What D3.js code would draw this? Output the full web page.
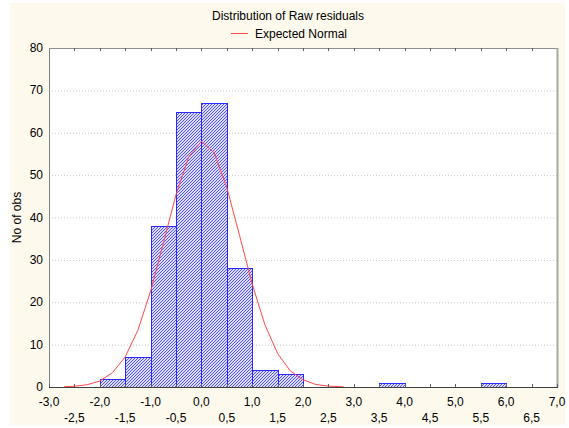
<!DOCTYPE html>
<html>
<head>
<meta charset="utf-8">
<script src="https://cdn.jsdelivr.net/npm/d3@7"></script>
<style>
  body { margin: 0; background: #ffffff; }
  text { font-family: "Liberation Sans", Arial, sans-serif; font-size: 12px; fill: #000; }
</style>
</head>
<body>
<svg id="chart" width="569" height="428"></svg>
<script>
// histogram bins (lower edge, upper edge, count)
const binStart = [-2.0, -1.5, -1.0, -0.5, 0.0, 0.5, 1.0, 1.5, 3.5, 5.5];
const binEnd   = [-1.5, -1.0, -0.5, 0.0, 0.5, 1.0, 1.5, 2.0, 4.0, 6.0];
const counts   = [2, 7, 38, 65, 67, 28, 4, 3, 1, 1];

// expected normal curve
const curveX = [-2.7, -2.5, -2.25, -2.0, -1.75, -1.5, -1.25, -1.0, -0.75, -0.5, -0.25, 0.0,
                0.25, 0.5, 0.75, 1.0, 1.25, 1.5, 1.75, 2.0, 2.25, 2.5, 2.8];
const curveY = [0.07, 0.18, 0.54, 1.4, 3.4, 7.1, 13.4, 22.6, 33.9, 45.4, 54.3, 58.0,
                55.3, 47.1, 35.8, 24.3, 14.7, 7.9, 3.8, 1.7, 0.6, 0.2, 0.05];

const xTicks = [-3.0, -2.5, -2.0, -1.5, -1.0, -0.5, 0.0, 0.5, 1.0, 1.5, 2.0, 2.5,
                3.0, 3.5, 4.0, 4.5, 5.0, 5.5, 6.0, 6.5, 7.0];
const yTicks = [0, 10, 20, 30, 40, 50, 60, 70, 80];

const svg = d3.select("#chart");
const margin = { top: 48, bottom: 41, left: 49, right: 12 };
const width = +svg.attr("width") - margin.left - margin.right;
const height = +svg.attr("height") - margin.top - margin.bottom;

// cream background
svg.append("rect")
  .attr("x", 10).attr("y", 3).attr("width", 555).attr("height", 422)
  .attr("fill", "#fdf9ed");

// hatch pattern for the bars
const defs = svg.append("defs");
const pat = defs.append("pattern")
  .attr("id", "hatch")
  .attr("patternUnits", "userSpaceOnUse")
  .attr("width", 3).attr("height", 3);
pat.append("rect").attr("width", 3).attr("height", 3).attr("fill", "#dcdcfc");
pat.append("path").attr("d", "M-1,1 l2,-2 M0,3 l3,-3 M2,4 l2,-2")
  .attr("stroke", "#5454f2").attr("stroke-width", 1);

const xScale = d3.scaleLinear().domain([-3, 7]).range([0, width]);
const yScale = d3.scaleLinear().domain([0, 80]).range([height, 0]);

const chart = svg.append("g").attr("transform", `translate(${margin.left},${margin.top})`);

chart.append("rect")
  .attr("width", width).attr("height", height)
  .attr("fill", "#ffffff");

// dotted grid lines
chart.append("g")
  .selectAll("line")
  .data(yTicks.filter(d => d > 0 && d < 80))
  .enter()
  .append("line")
  .attr("x1", 0).attr("x2", width)
  .attr("y1", d => yScale(d) + 0.5).attr("y2", d => yScale(d) + 0.5)
  .attr("stroke", "#c8c8c8")
  .attr("stroke-dasharray", "1,2");

// bars
chart.append("g")
  .selectAll("rect")
  .data(counts)
  .enter()
  .append("rect")
  .attr("x", (d, i) => Math.round(xScale(binStart[i])) + 0.5)
  .attr("y", d => Math.round(yScale(d)) + 0.5)
  .attr("width", (d, i) => Math.round(xScale(binEnd[i])) - Math.round(xScale(binStart[i])))
  .attr("height", d => height - Math.round(yScale(d)))
  .attr("fill", "url(#hatch)")
  .attr("stroke", "#2828ff")
  .attr("stroke-width", 1);

// expected normal
const line = d3.line()
  .x((d, i) => xScale(curveX[i]))
  .y(d => yScale(d));
chart.append("path")
  .datum(curveY)
  .attr("d", line)
  .attr("fill", "none")
  .attr("stroke", "#ff4848")
  .attr("stroke-width", 1);

// frame
chart.append("line").attr("x1", 0.5).attr("x2", 0.5).attr("y1", 0).attr("y2", height)
  .attr("stroke", "#808080");
chart.append("line").attr("x1", 0).attr("x2", width).attr("y1", 0.5).attr("y2", 0.5)
  .attr("stroke", "#909090");
chart.append("line").attr("x1", width + 0.5).attr("x2", width + 0.5).attr("y1", 0).attr("y2", height)
  .attr("stroke", "#a8a8a8").attr("stroke-width", 2);

// bottom axis: ticks inside, staggered labels
const xAxis = chart.append("g").attr("transform", `translate(0,${height})`);
xAxis.append("line").attr("x1", 0).attr("x2", width + 1).attr("y1", 0.5).attr("y2", 0.5)
  .attr("stroke", "#404040");
xAxis.selectAll("line.tick")
  .data(xTicks)
  .enter()
  .append("line")
  .attr("class", "tick")
  .attr("x1", d => Math.round(xScale(d)) + 0.5).attr("x2", d => Math.round(xScale(d)) + 0.5)
  .attr("y1", 0).attr("y2", -3)
  .attr("stroke", "#606060");
xAxis.selectAll("text")
  .data(xTicks)
  .enter()
  .append("text")
  .attr("x", d => xScale(d))
  .attr("y", (d, i) => i % 2 === 0 ? 19 : 35)
  .attr("text-anchor", "middle")
  .text(d => d3.format(".1f")(d).replace("−", "-").replace(".", ","));

// top ticks
chart.append("g")
  .selectAll("line")
  .data(xTicks.slice(1, -1))
  .enter()
  .append("line")
  .attr("x1", d => Math.round(xScale(d)) + 0.5).attr("x2", d => Math.round(xScale(d)) + 0.5)
  .attr("y1", 0).attr("y2", 3)
  .attr("stroke", "#606060");

// left labels
chart.append("g")
  .selectAll("text")
  .data(yTicks)
  .enter()
  .append("text")
  .attr("x", -6)
  .attr("y", d => yScale(d) + 4)
  .attr("text-anchor", "end")
  .text(d => d);

svg.append("text")
  .attr("transform", `translate(21,${margin.top + height / 2}) rotate(-90)`)
  .attr("text-anchor", "middle")
  .text("No of obs");

// title and legend
svg.append("text")
  .attr("x", 288).attr("y", 20)
  .attr("text-anchor", "middle")
  .text("Distribution of Raw residuals");
svg.append("line")
  .attr("x1", 231).attr("x2", 248).attr("y1", 33.5).attr("y2", 33.5)
  .attr("stroke", "#ff4848");
svg.append("text")
  .attr("x", 255).attr("y", 38)
  .text("Expected Normal");
</script>
</body>
</html>
